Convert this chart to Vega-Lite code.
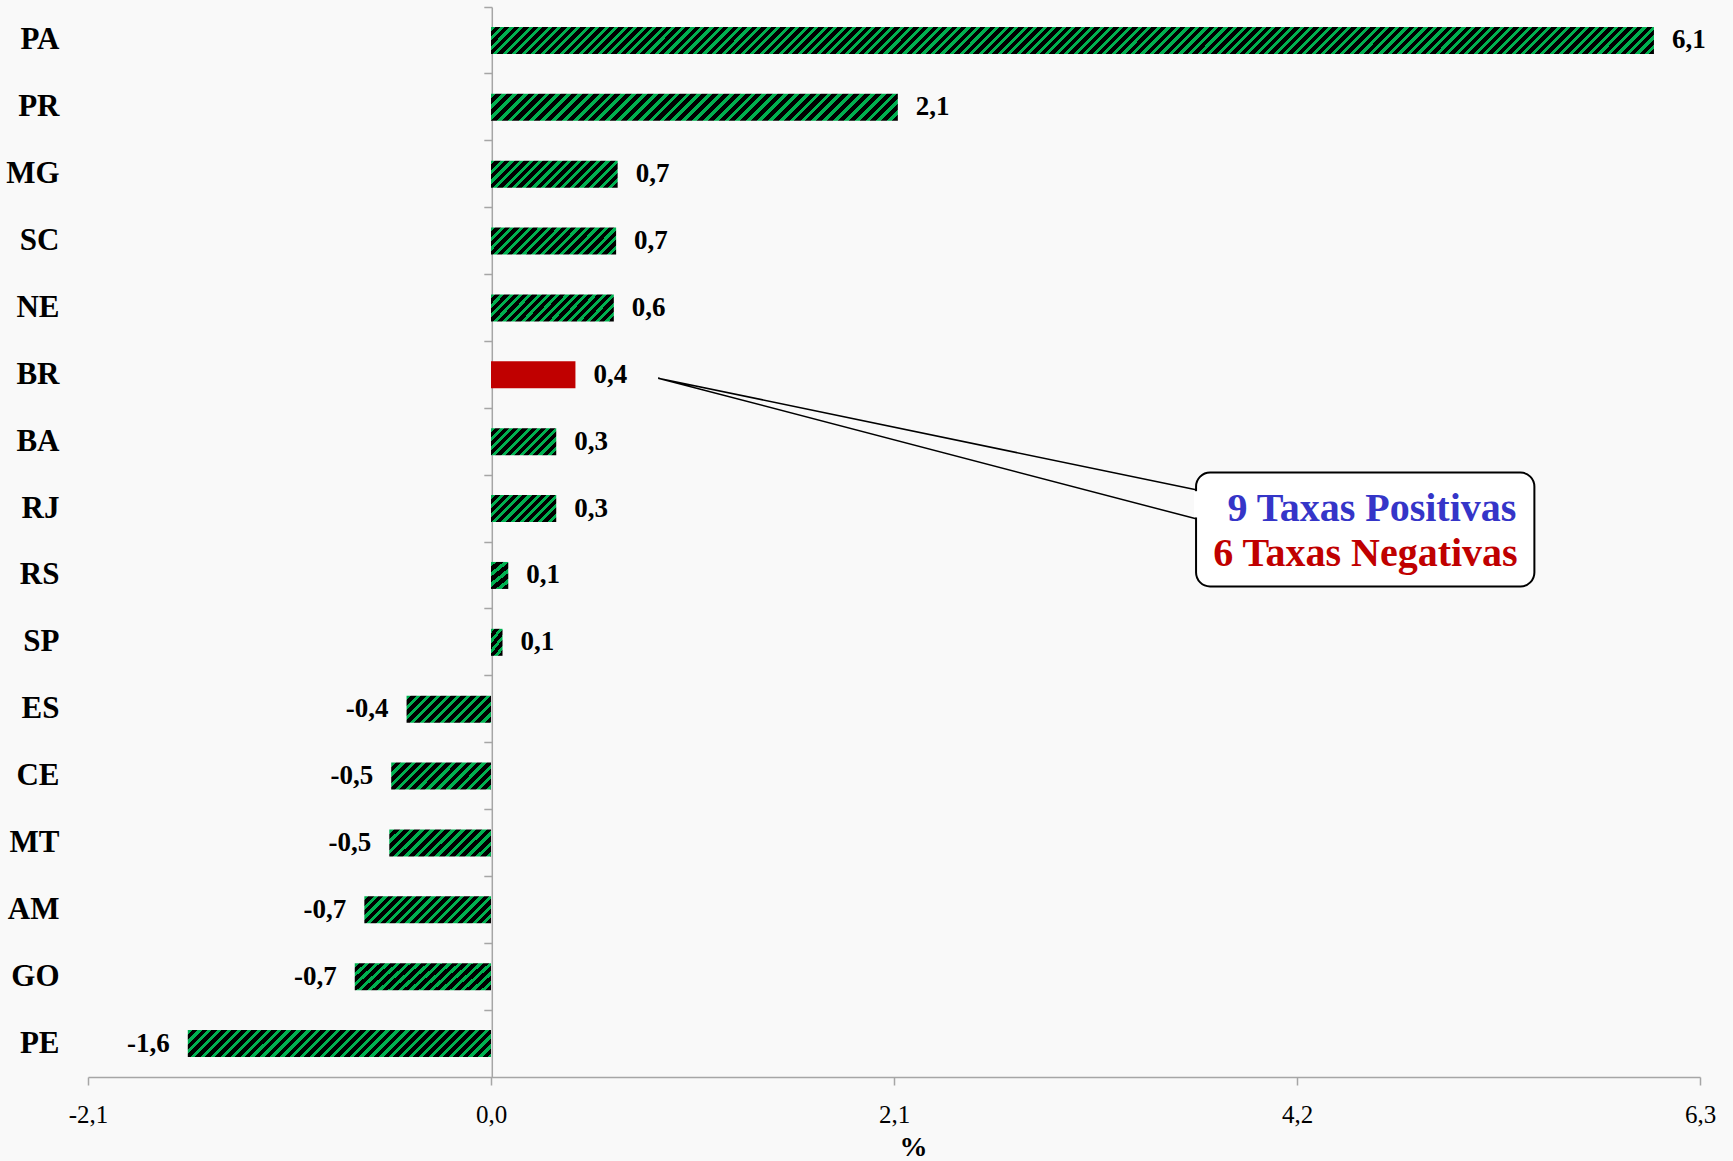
{
"$schema":"https://vega.github.io/schema/vega-lite/v6.json",
"width":1612,"height":1070,
"autosize":{"type":"none"},
"padding":{"left":88,"top":7,"right":33,"bottom":84},
"background":"#f9f9f9",
"config":{"view":{"stroke":null},"font":"Liberation Serif","locale":{"number":{"decimal":",","thousands":".","grouping":[3],"currency":["R$",""],"minus":"-"}}},
"datasets":{
"ufs":[{"uf":"PA","v":6.06},{"uf":"PR","v":2.12},{"uf":"MG","v":0.66},{"uf":"SC","v":0.652},{"uf":"NE","v":0.64},{"uf":"BR","v":0.44},{"uf":"BA","v":0.34},{"uf":"RJ","v":0.34},{"uf":"RS","v":0.09},{"uf":"SP","v":0.06},{"uf":"ES","v":-0.44},{"uf":"CE","v":-0.52},{"uf":"MT","v":-0.53},{"uf":"AM","v":-0.66},{"uf":"GO","v":-0.71},{"uf":"PE","v":-1.58}],
"box":[{"x":3.674,"x2":5.437,"y":6.961,"y2":8.665}],
"gap":[{"x":3.674,"y":7.24,"y2":7.633}],
"wedge":[{"x":3.674,"y":7.22,"o":1},{"x":0.871,"y":5.55,"o":2},{"x":3.674,"y":7.653,"o":3}],
"notes":[{"x":5.343,"y":7.693,"t":"9 Taxas Positivas","c":"pos"},{"x":5.35,"y":8.363,"t":"6 Taxas Negativas","c":"neg"}]
},
"layer":[
{"data":{"name":"ufs"},
"layer":[
{"mark":{"type":"bar","size":27},
"encoding":{
"y":{"field":"uf","type":"nominal","sort":null,"scale":{"domain":["PA","PR","MG","SC","NE","BR","BA","RJ","RS","SP","ES","CE","MT","AM","GO","PE"],"paddingInner":0,"paddingOuter":0},
"axis":{"orient":"left","title":null,"domain":false,"ticks":false,"tickSize":0,"labelPadding":29,"labelFont":"Liberation Serif","labelFontSize":31,"labelFontWeight":"bold","labelColor":"#000","grid":false}},
"x":{"field":"v","type":"quantitative","title":"%","scale":{"domain":[-2.1,6.3],"nice":false,"zero":false},
"axis":{"values":[-2.1,0,2.1,4.2,6.3],"format":".1f","title":"%","grid":false,"labelFlush":false,"labelOverlap":false,"domainColor":"#a6a6a6","domainWidth":1.5,"tickColor":"#a6a6a6","tickWidth":1.5,"tickSize":8,"labelFont":"Liberation Serif","labelFontSize":25,"labelColor":"#000","labelPadding":17,"titleFont":"Liberation Serif","titleFontSize":28,"titleFontWeight":"bold","titleColor":"#000","titleX":825,"titleY":56,"titleBaseline":"top","titleAlign":"center"}},
"color":{"condition":[
{"test":"datum.uf==='BR'","value":"#c00000"},
{"test":"datum.uf==='PA'","value":{"gradient":"linear","x1":0,"y1":0,"x2":1.0227,"y2":0.0237,"stops":[
{"offset":0,"color":"#00b050"},{"offset":0.0035,"color":"#00b050"},{"offset":0.0035,"color":"#000"},{"offset":0.008,"color":"#000"},
{"offset":0.008,"color":"#00b050"},{"offset":0.0115,"color":"#00b050"},{"offset":0.0115,"color":"#000"},{"offset":0.016,"color":"#000"},
{"offset":0.016,"color":"#00b050"},{"offset":0.0195,"color":"#00b050"},{"offset":0.0195,"color":"#000"},{"offset":0.024,"color":"#000"},
{"offset":0.024,"color":"#00b050"},{"offset":0.0275,"color":"#00b050"},{"offset":0.0275,"color":"#000"},{"offset":0.032,"color":"#000"},
{"offset":0.032,"color":"#00b050"},{"offset":0.0355,"color":"#00b050"},{"offset":0.0355,"color":"#000"},{"offset":0.04,"color":"#000"},
{"offset":0.04,"color":"#00b050"},{"offset":0.0435,"color":"#00b050"},{"offset":0.0435,"color":"#000"},{"offset":0.048,"color":"#000"},
{"offset":0.048,"color":"#00b050"},{"offset":0.0515,"color":"#00b050"},{"offset":0.0515,"color":"#000"},{"offset":0.056,"color":"#000"},
{"offset":0.056,"color":"#00b050"},{"offset":0.0595,"color":"#00b050"},{"offset":0.0595,"color":"#000"},{"offset":0.064,"color":"#000"},
{"offset":0.064,"color":"#00b050"},{"offset":0.0675,"color":"#00b050"},{"offset":0.0675,"color":"#000"},{"offset":0.072,"color":"#000"},
{"offset":0.072,"color":"#00b050"},{"offset":0.0755,"color":"#00b050"},{"offset":0.0755,"color":"#000"},{"offset":0.08,"color":"#000"},
{"offset":0.08,"color":"#00b050"},{"offset":0.0835,"color":"#00b050"},{"offset":0.0835,"color":"#000"},{"offset":0.088,"color":"#000"},
{"offset":0.088,"color":"#00b050"},{"offset":0.0915,"color":"#00b050"},{"offset":0.0915,"color":"#000"},{"offset":0.096,"color":"#000"},
{"offset":0.096,"color":"#00b050"},{"offset":0.0995,"color":"#00b050"},{"offset":0.0995,"color":"#000"},{"offset":0.104,"color":"#000"},
{"offset":0.104,"color":"#00b050"},{"offset":0.1075,"color":"#00b050"},{"offset":0.1075,"color":"#000"},{"offset":0.112,"color":"#000"},
{"offset":0.112,"color":"#00b050"},{"offset":0.1155,"color":"#00b050"},{"offset":0.1155,"color":"#000"},{"offset":0.12,"color":"#000"},
{"offset":0.12,"color":"#00b050"},{"offset":0.1235,"color":"#00b050"},{"offset":0.1235,"color":"#000"},{"offset":0.128,"color":"#000"},
{"offset":0.128,"color":"#00b050"},{"offset":0.1315,"color":"#00b050"},{"offset":0.1315,"color":"#000"},{"offset":0.136,"color":"#000"},
{"offset":0.136,"color":"#00b050"},{"offset":0.1395,"color":"#00b050"},{"offset":0.1395,"color":"#000"},{"offset":0.144,"color":"#000"},
{"offset":0.144,"color":"#00b050"},{"offset":0.1475,"color":"#00b050"},{"offset":0.1475,"color":"#000"},{"offset":0.152,"color":"#000"},
{"offset":0.152,"color":"#00b050"},{"offset":0.1555,"color":"#00b050"},{"offset":0.1555,"color":"#000"},{"offset":0.16,"color":"#000"},
{"offset":0.16,"color":"#00b050"},{"offset":0.1635,"color":"#00b050"},{"offset":0.1635,"color":"#000"},{"offset":0.168,"color":"#000"},
{"offset":0.168,"color":"#00b050"},{"offset":0.1715,"color":"#00b050"},{"offset":0.1715,"color":"#000"},{"offset":0.176,"color":"#000"},
{"offset":0.176,"color":"#00b050"},{"offset":0.1795,"color":"#00b050"},{"offset":0.1795,"color":"#000"},{"offset":0.184,"color":"#000"},
{"offset":0.184,"color":"#00b050"},{"offset":0.1875,"color":"#00b050"},{"offset":0.1875,"color":"#000"},{"offset":0.192,"color":"#000"},
{"offset":0.192,"color":"#00b050"},{"offset":0.1955,"color":"#00b050"},{"offset":0.1955,"color":"#000"},{"offset":0.2,"color":"#000"},
{"offset":0.2,"color":"#00b050"},{"offset":0.2035,"color":"#00b050"},{"offset":0.2035,"color":"#000"},{"offset":0.208,"color":"#000"},
{"offset":0.208,"color":"#00b050"},{"offset":0.2115,"color":"#00b050"},{"offset":0.2115,"color":"#000"},{"offset":0.216,"color":"#000"},
{"offset":0.216,"color":"#00b050"},{"offset":0.2195,"color":"#00b050"},{"offset":0.2195,"color":"#000"},{"offset":0.224,"color":"#000"},
{"offset":0.224,"color":"#00b050"},{"offset":0.2275,"color":"#00b050"},{"offset":0.2275,"color":"#000"},{"offset":0.232,"color":"#000"},
{"offset":0.232,"color":"#00b050"},{"offset":0.2355,"color":"#00b050"},{"offset":0.2355,"color":"#000"},{"offset":0.24,"color":"#000"},
{"offset":0.24,"color":"#00b050"},{"offset":0.2435,"color":"#00b050"},{"offset":0.2435,"color":"#000"},{"offset":0.248,"color":"#000"},
{"offset":0.248,"color":"#00b050"},{"offset":0.2515,"color":"#00b050"},{"offset":0.2515,"color":"#000"},{"offset":0.256,"color":"#000"},
{"offset":0.256,"color":"#00b050"},{"offset":0.2595,"color":"#00b050"},{"offset":0.2595,"color":"#000"},{"offset":0.264,"color":"#000"},
{"offset":0.264,"color":"#00b050"},{"offset":0.2675,"color":"#00b050"},{"offset":0.2675,"color":"#000"},{"offset":0.272,"color":"#000"},
{"offset":0.272,"color":"#00b050"},{"offset":0.2755,"color":"#00b050"},{"offset":0.2755,"color":"#000"},{"offset":0.28,"color":"#000"},
{"offset":0.28,"color":"#00b050"},{"offset":0.2835,"color":"#00b050"},{"offset":0.2835,"color":"#000"},{"offset":0.288,"color":"#000"},
{"offset":0.288,"color":"#00b050"},{"offset":0.2915,"color":"#00b050"},{"offset":0.2915,"color":"#000"},{"offset":0.296,"color":"#000"},
{"offset":0.296,"color":"#00b050"},{"offset":0.2995,"color":"#00b050"},{"offset":0.2995,"color":"#000"},{"offset":0.304,"color":"#000"},
{"offset":0.304,"color":"#00b050"},{"offset":0.3075,"color":"#00b050"},{"offset":0.3075,"color":"#000"},{"offset":0.312,"color":"#000"},
{"offset":0.312,"color":"#00b050"},{"offset":0.3155,"color":"#00b050"},{"offset":0.3155,"color":"#000"},{"offset":0.32,"color":"#000"},
{"offset":0.32,"color":"#00b050"},{"offset":0.3235,"color":"#00b050"},{"offset":0.3235,"color":"#000"},{"offset":0.328,"color":"#000"},
{"offset":0.328,"color":"#00b050"},{"offset":0.3315,"color":"#00b050"},{"offset":0.3315,"color":"#000"},{"offset":0.336,"color":"#000"},
{"offset":0.336,"color":"#00b050"},{"offset":0.3395,"color":"#00b050"},{"offset":0.3395,"color":"#000"},{"offset":0.344,"color":"#000"},
{"offset":0.344,"color":"#00b050"},{"offset":0.3475,"color":"#00b050"},{"offset":0.3475,"color":"#000"},{"offset":0.352,"color":"#000"},
{"offset":0.352,"color":"#00b050"},{"offset":0.3555,"color":"#00b050"},{"offset":0.3555,"color":"#000"},{"offset":0.36,"color":"#000"},
{"offset":0.36,"color":"#00b050"},{"offset":0.3635,"color":"#00b050"},{"offset":0.3635,"color":"#000"},{"offset":0.368,"color":"#000"},
{"offset":0.368,"color":"#00b050"},{"offset":0.3715,"color":"#00b050"},{"offset":0.3715,"color":"#000"},{"offset":0.376,"color":"#000"},
{"offset":0.376,"color":"#00b050"},{"offset":0.3795,"color":"#00b050"},{"offset":0.3795,"color":"#000"},{"offset":0.384,"color":"#000"},
{"offset":0.384,"color":"#00b050"},{"offset":0.3875,"color":"#00b050"},{"offset":0.3875,"color":"#000"},{"offset":0.392,"color":"#000"},
{"offset":0.392,"color":"#00b050"},{"offset":0.3955,"color":"#00b050"},{"offset":0.3955,"color":"#000"},{"offset":0.4,"color":"#000"},
{"offset":0.4,"color":"#00b050"},{"offset":0.4035,"color":"#00b050"},{"offset":0.4035,"color":"#000"},{"offset":0.408,"color":"#000"},
{"offset":0.408,"color":"#00b050"},{"offset":0.4115,"color":"#00b050"},{"offset":0.4115,"color":"#000"},{"offset":0.416,"color":"#000"},
{"offset":0.416,"color":"#00b050"},{"offset":0.4195,"color":"#00b050"},{"offset":0.4195,"color":"#000"},{"offset":0.424,"color":"#000"},
{"offset":0.424,"color":"#00b050"},{"offset":0.4275,"color":"#00b050"},{"offset":0.4275,"color":"#000"},{"offset":0.432,"color":"#000"},
{"offset":0.432,"color":"#00b050"},{"offset":0.4355,"color":"#00b050"},{"offset":0.4355,"color":"#000"},{"offset":0.44,"color":"#000"},
{"offset":0.44,"color":"#00b050"},{"offset":0.4435,"color":"#00b050"},{"offset":0.4435,"color":"#000"},{"offset":0.448,"color":"#000"},
{"offset":0.448,"color":"#00b050"},{"offset":0.4515,"color":"#00b050"},{"offset":0.4515,"color":"#000"},{"offset":0.456,"color":"#000"},
{"offset":0.456,"color":"#00b050"},{"offset":0.4595,"color":"#00b050"},{"offset":0.4595,"color":"#000"},{"offset":0.464,"color":"#000"},
{"offset":0.464,"color":"#00b050"},{"offset":0.4675,"color":"#00b050"},{"offset":0.4675,"color":"#000"},{"offset":0.472,"color":"#000"},
{"offset":0.472,"color":"#00b050"},{"offset":0.4755,"color":"#00b050"},{"offset":0.4755,"color":"#000"},{"offset":0.48,"color":"#000"},
{"offset":0.48,"color":"#00b050"},{"offset":0.4835,"color":"#00b050"},{"offset":0.4835,"color":"#000"},{"offset":0.488,"color":"#000"},
{"offset":0.488,"color":"#00b050"},{"offset":0.4915,"color":"#00b050"},{"offset":0.4915,"color":"#000"},{"offset":0.496,"color":"#000"},
{"offset":0.496,"color":"#00b050"},{"offset":0.4995,"color":"#00b050"},{"offset":0.4995,"color":"#000"},{"offset":0.504,"color":"#000"},
{"offset":0.504,"color":"#00b050"},{"offset":0.5075,"color":"#00b050"},{"offset":0.5075,"color":"#000"},{"offset":0.512,"color":"#000"},
{"offset":0.512,"color":"#00b050"},{"offset":0.5155,"color":"#00b050"},{"offset":0.5155,"color":"#000"},{"offset":0.52,"color":"#000"},
{"offset":0.52,"color":"#00b050"},{"offset":0.5235,"color":"#00b050"},{"offset":0.5235,"color":"#000"},{"offset":0.528,"color":"#000"},
{"offset":0.528,"color":"#00b050"},{"offset":0.5315,"color":"#00b050"},{"offset":0.5315,"color":"#000"},{"offset":0.536,"color":"#000"},
{"offset":0.536,"color":"#00b050"},{"offset":0.5395,"color":"#00b050"},{"offset":0.5395,"color":"#000"},{"offset":0.544,"color":"#000"},
{"offset":0.544,"color":"#00b050"},{"offset":0.5475,"color":"#00b050"},{"offset":0.5475,"color":"#000"},{"offset":0.552,"color":"#000"},
{"offset":0.552,"color":"#00b050"},{"offset":0.5555,"color":"#00b050"},{"offset":0.5555,"color":"#000"},{"offset":0.56,"color":"#000"},
{"offset":0.56,"color":"#00b050"},{"offset":0.5635,"color":"#00b050"},{"offset":0.5635,"color":"#000"},{"offset":0.568,"color":"#000"},
{"offset":0.568,"color":"#00b050"},{"offset":0.5715,"color":"#00b050"},{"offset":0.5715,"color":"#000"},{"offset":0.576,"color":"#000"},
{"offset":0.576,"color":"#00b050"},{"offset":0.5795,"color":"#00b050"},{"offset":0.5795,"color":"#000"},{"offset":0.584,"color":"#000"},
{"offset":0.584,"color":"#00b050"},{"offset":0.5875,"color":"#00b050"},{"offset":0.5875,"color":"#000"},{"offset":0.592,"color":"#000"},
{"offset":0.592,"color":"#00b050"},{"offset":0.5955,"color":"#00b050"},{"offset":0.5955,"color":"#000"},{"offset":0.6,"color":"#000"},
{"offset":0.6,"color":"#00b050"},{"offset":0.6035,"color":"#00b050"},{"offset":0.6035,"color":"#000"},{"offset":0.608,"color":"#000"},
{"offset":0.608,"color":"#00b050"},{"offset":0.6115,"color":"#00b050"},{"offset":0.6115,"color":"#000"},{"offset":0.616,"color":"#000"},
{"offset":0.616,"color":"#00b050"},{"offset":0.6195,"color":"#00b050"},{"offset":0.6195,"color":"#000"},{"offset":0.624,"color":"#000"},
{"offset":0.624,"color":"#00b050"},{"offset":0.6275,"color":"#00b050"},{"offset":0.6275,"color":"#000"},{"offset":0.632,"color":"#000"},
{"offset":0.632,"color":"#00b050"},{"offset":0.6355,"color":"#00b050"},{"offset":0.6355,"color":"#000"},{"offset":0.64,"color":"#000"},
{"offset":0.64,"color":"#00b050"},{"offset":0.6435,"color":"#00b050"},{"offset":0.6435,"color":"#000"},{"offset":0.648,"color":"#000"},
{"offset":0.648,"color":"#00b050"},{"offset":0.6515,"color":"#00b050"},{"offset":0.6515,"color":"#000"},{"offset":0.656,"color":"#000"},
{"offset":0.656,"color":"#00b050"},{"offset":0.6595,"color":"#00b050"},{"offset":0.6595,"color":"#000"},{"offset":0.664,"color":"#000"},
{"offset":0.664,"color":"#00b050"},{"offset":0.6675,"color":"#00b050"},{"offset":0.6675,"color":"#000"},{"offset":0.672,"color":"#000"},
{"offset":0.672,"color":"#00b050"},{"offset":0.6755,"color":"#00b050"},{"offset":0.6755,"color":"#000"},{"offset":0.68,"color":"#000"},
{"offset":0.68,"color":"#00b050"},{"offset":0.6835,"color":"#00b050"},{"offset":0.6835,"color":"#000"},{"offset":0.688,"color":"#000"},
{"offset":0.688,"color":"#00b050"},{"offset":0.6915,"color":"#00b050"},{"offset":0.6915,"color":"#000"},{"offset":0.696,"color":"#000"},
{"offset":0.696,"color":"#00b050"},{"offset":0.6995,"color":"#00b050"},{"offset":0.6995,"color":"#000"},{"offset":0.704,"color":"#000"},
{"offset":0.704,"color":"#00b050"},{"offset":0.7075,"color":"#00b050"},{"offset":0.7075,"color":"#000"},{"offset":0.712,"color":"#000"},
{"offset":0.712,"color":"#00b050"},{"offset":0.7155,"color":"#00b050"},{"offset":0.7155,"color":"#000"},{"offset":0.72,"color":"#000"},
{"offset":0.72,"color":"#00b050"},{"offset":0.7235,"color":"#00b050"},{"offset":0.7235,"color":"#000"},{"offset":0.728,"color":"#000"},
{"offset":0.728,"color":"#00b050"},{"offset":0.7315,"color":"#00b050"},{"offset":0.7315,"color":"#000"},{"offset":0.736,"color":"#000"},
{"offset":0.736,"color":"#00b050"},{"offset":0.7395,"color":"#00b050"},{"offset":0.7395,"color":"#000"},{"offset":0.744,"color":"#000"},
{"offset":0.744,"color":"#00b050"},{"offset":0.7475,"color":"#00b050"},{"offset":0.7475,"color":"#000"},{"offset":0.752,"color":"#000"},
{"offset":0.752,"color":"#00b050"},{"offset":0.7555,"color":"#00b050"},{"offset":0.7555,"color":"#000"},{"offset":0.76,"color":"#000"},
{"offset":0.76,"color":"#00b050"},{"offset":0.7635,"color":"#00b050"},{"offset":0.7635,"color":"#000"},{"offset":0.768,"color":"#000"},
{"offset":0.768,"color":"#00b050"},{"offset":0.7715,"color":"#00b050"},{"offset":0.7715,"color":"#000"},{"offset":0.776,"color":"#000"},
{"offset":0.776,"color":"#00b050"},{"offset":0.7795,"color":"#00b050"},{"offset":0.7795,"color":"#000"},{"offset":0.784,"color":"#000"},
{"offset":0.784,"color":"#00b050"},{"offset":0.7875,"color":"#00b050"},{"offset":0.7875,"color":"#000"},{"offset":0.792,"color":"#000"},
{"offset":0.792,"color":"#00b050"},{"offset":0.7955,"color":"#00b050"},{"offset":0.7955,"color":"#000"},{"offset":0.8,"color":"#000"},
{"offset":0.8,"color":"#00b050"},{"offset":0.8035,"color":"#00b050"},{"offset":0.8035,"color":"#000"},{"offset":0.808,"color":"#000"},
{"offset":0.808,"color":"#00b050"},{"offset":0.8115,"color":"#00b050"},{"offset":0.8115,"color":"#000"},{"offset":0.816,"color":"#000"},
{"offset":0.816,"color":"#00b050"},{"offset":0.8195,"color":"#00b050"},{"offset":0.8195,"color":"#000"},{"offset":0.824,"color":"#000"},
{"offset":0.824,"color":"#00b050"},{"offset":0.8275,"color":"#00b050"},{"offset":0.8275,"color":"#000"},{"offset":0.832,"color":"#000"},
{"offset":0.832,"color":"#00b050"},{"offset":0.8355,"color":"#00b050"},{"offset":0.8355,"color":"#000"},{"offset":0.84,"color":"#000"},
{"offset":0.84,"color":"#00b050"},{"offset":0.8435,"color":"#00b050"},{"offset":0.8435,"color":"#000"},{"offset":0.848,"color":"#000"},
{"offset":0.848,"color":"#00b050"},{"offset":0.8515,"color":"#00b050"},{"offset":0.8515,"color":"#000"},{"offset":0.856,"color":"#000"},
{"offset":0.856,"color":"#00b050"},{"offset":0.8595,"color":"#00b050"},{"offset":0.8595,"color":"#000"},{"offset":0.864,"color":"#000"},
{"offset":0.864,"color":"#00b050"},{"offset":0.8675,"color":"#00b050"},{"offset":0.8675,"color":"#000"},{"offset":0.872,"color":"#000"},
{"offset":0.872,"color":"#00b050"},{"offset":0.8755,"color":"#00b050"},{"offset":0.8755,"color":"#000"},{"offset":0.88,"color":"#000"},
{"offset":0.88,"color":"#00b050"},{"offset":0.8835,"color":"#00b050"},{"offset":0.8835,"color":"#000"},{"offset":0.888,"color":"#000"},
{"offset":0.888,"color":"#00b050"},{"offset":0.8915,"color":"#00b050"},{"offset":0.8915,"color":"#000"},{"offset":0.896,"color":"#000"},
{"offset":0.896,"color":"#00b050"},{"offset":0.8995,"color":"#00b050"},{"offset":0.8995,"color":"#000"},{"offset":0.904,"color":"#000"},
{"offset":0.904,"color":"#00b050"},{"offset":0.9075,"color":"#00b050"},{"offset":0.9075,"color":"#000"},{"offset":0.912,"color":"#000"},
{"offset":0.912,"color":"#00b050"},{"offset":0.9155,"color":"#00b050"},{"offset":0.9155,"color":"#000"},{"offset":0.92,"color":"#000"},
{"offset":0.92,"color":"#00b050"},{"offset":0.9235,"color":"#00b050"},{"offset":0.9235,"color":"#000"},{"offset":0.928,"color":"#000"},
{"offset":0.928,"color":"#00b050"},{"offset":0.9315,"color":"#00b050"},{"offset":0.9315,"color":"#000"},{"offset":0.936,"color":"#000"},
{"offset":0.936,"color":"#00b050"},{"offset":0.9395,"color":"#00b050"},{"offset":0.9395,"color":"#000"},{"offset":0.944,"color":"#000"},
{"offset":0.944,"color":"#00b050"},{"offset":0.9475,"color":"#00b050"},{"offset":0.9475,"color":"#000"},{"offset":0.952,"color":"#000"},
{"offset":0.952,"color":"#00b050"},{"offset":0.9555,"color":"#00b050"},{"offset":0.9555,"color":"#000"},{"offset":0.96,"color":"#000"},
{"offset":0.96,"color":"#00b050"},{"offset":0.9635,"color":"#00b050"},{"offset":0.9635,"color":"#000"},{"offset":0.968,"color":"#000"},
{"offset":0.968,"color":"#00b050"},{"offset":0.9715,"color":"#00b050"},{"offset":0.9715,"color":"#000"},{"offset":0.976,"color":"#000"},
{"offset":0.976,"color":"#00b050"},{"offset":0.9795,"color":"#00b050"},{"offset":0.9795,"color":"#000"},{"offset":0.984,"color":"#000"},
{"offset":0.984,"color":"#00b050"},{"offset":0.9875,"color":"#00b050"},{"offset":0.9875,"color":"#000"},{"offset":0.992,"color":"#000"},
{"offset":0.992,"color":"#00b050"},{"offset":0.9955,"color":"#00b050"},{"offset":0.9955,"color":"#000"},{"offset":1,"color":"#000"}
]}},
{"test":"datum.uf==='PR'","value":{"gradient":"linear","x1":0,"y1":0,"x2":1.0617,"y2":0.0705,"stops":[
{"offset":0,"color":"#00b050"},{"offset":0.011,"color":"#00b050"},{"offset":0.011,"color":"#000"},{"offset":0.025,"color":"#000"},
{"offset":0.025,"color":"#00b050"},{"offset":0.036,"color":"#00b050"},{"offset":0.036,"color":"#000"},{"offset":0.05,"color":"#000"},
{"offset":0.05,"color":"#00b050"},{"offset":0.061,"color":"#00b050"},{"offset":0.061,"color":"#000"},{"offset":0.075,"color":"#000"},
{"offset":0.075,"color":"#00b050"},{"offset":0.086,"color":"#00b050"},{"offset":0.086,"color":"#000"},{"offset":0.1,"color":"#000"},
{"offset":0.1,"color":"#00b050"},{"offset":0.111,"color":"#00b050"},{"offset":0.111,"color":"#000"},{"offset":0.125,"color":"#000"},
{"offset":0.125,"color":"#00b050"},{"offset":0.136,"color":"#00b050"},{"offset":0.136,"color":"#000"},{"offset":0.15,"color":"#000"},
{"offset":0.15,"color":"#00b050"},{"offset":0.161,"color":"#00b050"},{"offset":0.161,"color":"#000"},{"offset":0.175,"color":"#000"},
{"offset":0.175,"color":"#00b050"},{"offset":0.186,"color":"#00b050"},{"offset":0.186,"color":"#000"},{"offset":0.2,"color":"#000"},
{"offset":0.2,"color":"#00b050"},{"offset":0.211,"color":"#00b050"},{"offset":0.211,"color":"#000"},{"offset":0.225,"color":"#000"},
{"offset":0.225,"color":"#00b050"},{"offset":0.236,"color":"#00b050"},{"offset":0.236,"color":"#000"},{"offset":0.25,"color":"#000"},
{"offset":0.25,"color":"#00b050"},{"offset":0.261,"color":"#00b050"},{"offset":0.261,"color":"#000"},{"offset":0.275,"color":"#000"},
{"offset":0.275,"color":"#00b050"},{"offset":0.286,"color":"#00b050"},{"offset":0.286,"color":"#000"},{"offset":0.3,"color":"#000"},
{"offset":0.3,"color":"#00b050"},{"offset":0.311,"color":"#00b050"},{"offset":0.311,"color":"#000"},{"offset":0.325,"color":"#000"},
{"offset":0.325,"color":"#00b050"},{"offset":0.336,"color":"#00b050"},{"offset":0.336,"color":"#000"},{"offset":0.35,"color":"#000"},
{"offset":0.35,"color":"#00b050"},{"offset":0.361,"color":"#00b050"},{"offset":0.361,"color":"#000"},{"offset":0.375,"color":"#000"},
{"offset":0.375,"color":"#00b050"},{"offset":0.386,"color":"#00b050"},{"offset":0.386,"color":"#000"},{"offset":0.4,"color":"#000"},
{"offset":0.4,"color":"#00b050"},{"offset":0.411,"color":"#00b050"},{"offset":0.411,"color":"#000"},{"offset":0.425,"color":"#000"},
{"offset":0.425,"color":"#00b050"},{"offset":0.436,"color":"#00b050"},{"offset":0.436,"color":"#000"},{"offset":0.45,"color":"#000"},
{"offset":0.45,"color":"#00b050"},{"offset":0.461,"color":"#00b050"},{"offset":0.461,"color":"#000"},{"offset":0.475,"color":"#000"},
{"offset":0.475,"color":"#00b050"},{"offset":0.486,"color":"#00b050"},{"offset":0.486,"color":"#000"},{"offset":0.5,"color":"#000"},
{"offset":0.5,"color":"#00b050"},{"offset":0.511,"color":"#00b050"},{"offset":0.511,"color":"#000"},{"offset":0.525,"color":"#000"},
{"offset":0.525,"color":"#00b050"},{"offset":0.536,"color":"#00b050"},{"offset":0.536,"color":"#000"},{"offset":0.55,"color":"#000"},
{"offset":0.55,"color":"#00b050"},{"offset":0.561,"color":"#00b050"},{"offset":0.561,"color":"#000"},{"offset":0.575,"color":"#000"},
{"offset":0.575,"color":"#00b050"},{"offset":0.586,"color":"#00b050"},{"offset":0.586,"color":"#000"},{"offset":0.6,"color":"#000"},
{"offset":0.6,"color":"#00b050"},{"offset":0.611,"color":"#00b050"},{"offset":0.611,"color":"#000"},{"offset":0.625,"color":"#000"},
{"offset":0.625,"color":"#00b050"},{"offset":0.636,"color":"#00b050"},{"offset":0.636,"color":"#000"},{"offset":0.65,"color":"#000"},
{"offset":0.65,"color":"#00b050"},{"offset":0.661,"color":"#00b050"},{"offset":0.661,"color":"#000"},{"offset":0.675,"color":"#000"},
{"offset":0.675,"color":"#00b050"},{"offset":0.686,"color":"#00b050"},{"offset":0.686,"color":"#000"},{"offset":0.7,"color":"#000"},
{"offset":0.7,"color":"#00b050"},{"offset":0.711,"color":"#00b050"},{"offset":0.711,"color":"#000"},{"offset":0.725,"color":"#000"},
{"offset":0.725,"color":"#00b050"},{"offset":0.736,"color":"#00b050"},{"offset":0.736,"color":"#000"},{"offset":0.75,"color":"#000"},
{"offset":0.75,"color":"#00b050"},{"offset":0.761,"color":"#00b050"},{"offset":0.761,"color":"#000"},{"offset":0.775,"color":"#000"},
{"offset":0.775,"color":"#00b050"},{"offset":0.786,"color":"#00b050"},{"offset":0.786,"color":"#000"},{"offset":0.8,"color":"#000"},
{"offset":0.8,"color":"#00b050"},{"offset":0.811,"color":"#00b050"},{"offset":0.811,"color":"#000"},{"offset":0.825,"color":"#000"},
{"offset":0.825,"color":"#00b050"},{"offset":0.836,"color":"#00b050"},{"offset":0.836,"color":"#000"},{"offset":0.85,"color":"#000"},
{"offset":0.85,"color":"#00b050"},{"offset":0.861,"color":"#00b050"},{"offset":0.861,"color":"#000"},{"offset":0.875,"color":"#000"},
{"offset":0.875,"color":"#00b050"},{"offset":0.886,"color":"#00b050"},{"offset":0.886,"color":"#000"},{"offset":0.9,"color":"#000"},
{"offset":0.9,"color":"#00b050"},{"offset":0.911,"color":"#00b050"},{"offset":0.911,"color":"#000"},{"offset":0.925,"color":"#000"},
{"offset":0.925,"color":"#00b050"},{"offset":0.936,"color":"#00b050"},{"offset":0.936,"color":"#000"},{"offset":0.95,"color":"#000"},
{"offset":0.95,"color":"#00b050"},{"offset":0.961,"color":"#00b050"},{"offset":0.961,"color":"#000"},{"offset":0.975,"color":"#000"},
{"offset":0.975,"color":"#00b050"},{"offset":0.986,"color":"#00b050"},{"offset":0.986,"color":"#000"},{"offset":1,"color":"#000"}
]}},
{"test":"datum.uf==='PE'","value":{"gradient":"linear","x1":0,"y1":0,"x2":1.0805,"y2":0.0963,"stops":[
{"offset":0,"color":"#00b050"},{"offset":0.013,"color":"#00b050"},{"offset":0.013,"color":"#000"},{"offset":0.03,"color":"#000"},
{"offset":0.03,"color":"#00b050"},{"offset":0.043,"color":"#00b050"},{"offset":0.043,"color":"#000"},{"offset":0.06,"color":"#000"},
{"offset":0.06,"color":"#00b050"},{"offset":0.073,"color":"#00b050"},{"offset":0.073,"color":"#000"},{"offset":0.09,"color":"#000"},
{"offset":0.09,"color":"#00b050"},{"offset":0.103,"color":"#00b050"},{"offset":0.103,"color":"#000"},{"offset":0.12,"color":"#000"},
{"offset":0.12,"color":"#00b050"},{"offset":0.133,"color":"#00b050"},{"offset":0.133,"color":"#000"},{"offset":0.15,"color":"#000"},
{"offset":0.15,"color":"#00b050"},{"offset":0.163,"color":"#00b050"},{"offset":0.163,"color":"#000"},{"offset":0.18,"color":"#000"},
{"offset":0.18,"color":"#00b050"},{"offset":0.193,"color":"#00b050"},{"offset":0.193,"color":"#000"},{"offset":0.21,"color":"#000"},
{"offset":0.21,"color":"#00b050"},{"offset":0.223,"color":"#00b050"},{"offset":0.223,"color":"#000"},{"offset":0.24,"color":"#000"},
{"offset":0.24,"color":"#00b050"},{"offset":0.253,"color":"#00b050"},{"offset":0.253,"color":"#000"},{"offset":0.27,"color":"#000"},
{"offset":0.27,"color":"#00b050"},{"offset":0.283,"color":"#00b050"},{"offset":0.283,"color":"#000"},{"offset":0.3,"color":"#000"},
{"offset":0.3,"color":"#00b050"},{"offset":0.313,"color":"#00b050"},{"offset":0.313,"color":"#000"},{"offset":0.33,"color":"#000"},
{"offset":0.33,"color":"#00b050"},{"offset":0.343,"color":"#00b050"},{"offset":0.343,"color":"#000"},{"offset":0.36,"color":"#000"},
{"offset":0.36,"color":"#00b050"},{"offset":0.373,"color":"#00b050"},{"offset":0.373,"color":"#000"},{"offset":0.39,"color":"#000"},
{"offset":0.39,"color":"#00b050"},{"offset":0.403,"color":"#00b050"},{"offset":0.403,"color":"#000"},{"offset":0.42,"color":"#000"},
{"offset":0.42,"color":"#00b050"},{"offset":0.433,"color":"#00b050"},{"offset":0.433,"color":"#000"},{"offset":0.45,"color":"#000"},
{"offset":0.45,"color":"#00b050"},{"offset":0.463,"color":"#00b050"},{"offset":0.463,"color":"#000"},{"offset":0.48,"color":"#000"},
{"offset":0.48,"color":"#00b050"},{"offset":0.493,"color":"#00b050"},{"offset":0.493,"color":"#000"},{"offset":0.51,"color":"#000"},
{"offset":0.51,"color":"#00b050"},{"offset":0.523,"color":"#00b050"},{"offset":0.523,"color":"#000"},{"offset":0.54,"color":"#000"},
{"offset":0.54,"color":"#00b050"},{"offset":0.553,"color":"#00b050"},{"offset":0.553,"color":"#000"},{"offset":0.57,"color":"#000"},
{"offset":0.57,"color":"#00b050"},{"offset":0.583,"color":"#00b050"},{"offset":0.583,"color":"#000"},{"offset":0.6,"color":"#000"},
{"offset":0.6,"color":"#00b050"},{"offset":0.613,"color":"#00b050"},{"offset":0.613,"color":"#000"},{"offset":0.63,"color":"#000"},
{"offset":0.63,"color":"#00b050"},{"offset":0.643,"color":"#00b050"},{"offset":0.643,"color":"#000"},{"offset":0.66,"color":"#000"},
{"offset":0.66,"color":"#00b050"},{"offset":0.673,"color":"#00b050"},{"offset":0.673,"color":"#000"},{"offset":0.69,"color":"#000"},
{"offset":0.69,"color":"#00b050"},{"offset":0.703,"color":"#00b050"},{"offset":0.703,"color":"#000"},{"offset":0.72,"color":"#000"},
{"offset":0.72,"color":"#00b050"},{"offset":0.733,"color":"#00b050"},{"offset":0.733,"color":"#000"},{"offset":0.75,"color":"#000"},
{"offset":0.75,"color":"#00b050"},{"offset":0.763,"color":"#00b050"},{"offset":0.763,"color":"#000"},{"offset":0.78,"color":"#000"},
{"offset":0.78,"color":"#00b050"},{"offset":0.793,"color":"#00b050"},{"offset":0.793,"color":"#000"},{"offset":0.81,"color":"#000"},
{"offset":0.81,"color":"#00b050"},{"offset":0.823,"color":"#00b050"},{"offset":0.823,"color":"#000"},{"offset":0.84,"color":"#000"},
{"offset":0.84,"color":"#00b050"},{"offset":0.853,"color":"#00b050"},{"offset":0.853,"color":"#000"},{"offset":0.87,"color":"#000"},
{"offset":0.87,"color":"#00b050"},{"offset":0.883,"color":"#00b050"},{"offset":0.883,"color":"#000"},{"offset":0.9,"color":"#000"},
{"offset":0.9,"color":"#00b050"},{"offset":0.913,"color":"#00b050"},{"offset":0.913,"color":"#000"},{"offset":0.93,"color":"#000"},
{"offset":0.93,"color":"#00b050"},{"offset":0.943,"color":"#00b050"},{"offset":0.943,"color":"#000"},{"offset":0.96,"color":"#000"},
{"offset":0.96,"color":"#00b050"},{"offset":0.973,"color":"#00b050"},{"offset":0.973,"color":"#000"},{"offset":0.99,"color":"#000"},
{"offset":0.99,"color":"#00b050"},{"offset":1,"color":"#00b050"}
]}},
{"test":"datum.uf==='MG' || datum.uf==='SC' || datum.uf==='NE' || datum.uf==='AM' || datum.uf==='GO'","value":{"gradient":"linear","x1":0,"y1":0,"x2":1.1602,"y2":0.2467,"stops":[
{"offset":0,"color":"#00b050"},{"offset":0.0275,"color":"#00b050"},{"offset":0.0275,"color":"#000"},{"offset":0.0625,"color":"#000"},
{"offset":0.0625,"color":"#00b050"},{"offset":0.09,"color":"#00b050"},{"offset":0.09,"color":"#000"},{"offset":0.125,"color":"#000"},
{"offset":0.125,"color":"#00b050"},{"offset":0.1525,"color":"#00b050"},{"offset":0.1525,"color":"#000"},{"offset":0.1875,"color":"#000"},
{"offset":0.1875,"color":"#00b050"},{"offset":0.215,"color":"#00b050"},{"offset":0.215,"color":"#000"},{"offset":0.25,"color":"#000"},
{"offset":0.25,"color":"#00b050"},{"offset":0.2775,"color":"#00b050"},{"offset":0.2775,"color":"#000"},{"offset":0.3125,"color":"#000"},
{"offset":0.3125,"color":"#00b050"},{"offset":0.34,"color":"#00b050"},{"offset":0.34,"color":"#000"},{"offset":0.375,"color":"#000"},
{"offset":0.375,"color":"#00b050"},{"offset":0.4025,"color":"#00b050"},{"offset":0.4025,"color":"#000"},{"offset":0.4375,"color":"#000"},
{"offset":0.4375,"color":"#00b050"},{"offset":0.465,"color":"#00b050"},{"offset":0.465,"color":"#000"},{"offset":0.5,"color":"#000"},
{"offset":0.5,"color":"#00b050"},{"offset":0.5275,"color":"#00b050"},{"offset":0.5275,"color":"#000"},{"offset":0.5625,"color":"#000"},
{"offset":0.5625,"color":"#00b050"},{"offset":0.59,"color":"#00b050"},{"offset":0.59,"color":"#000"},{"offset":0.625,"color":"#000"},
{"offset":0.625,"color":"#00b050"},{"offset":0.6525,"color":"#00b050"},{"offset":0.6525,"color":"#000"},{"offset":0.6875,"color":"#000"},
{"offset":0.6875,"color":"#00b050"},{"offset":0.715,"color":"#00b050"},{"offset":0.715,"color":"#000"},{"offset":0.75,"color":"#000"},
{"offset":0.75,"color":"#00b050"},{"offset":0.7775,"color":"#00b050"},{"offset":0.7775,"color":"#000"},{"offset":0.8125,"color":"#000"},
{"offset":0.8125,"color":"#00b050"},{"offset":0.84,"color":"#00b050"},{"offset":0.84,"color":"#000"},{"offset":0.875,"color":"#000"},
{"offset":0.875,"color":"#00b050"},{"offset":0.9025,"color":"#00b050"},{"offset":0.9025,"color":"#000"},{"offset":0.9375,"color":"#000"},
{"offset":0.9375,"color":"#00b050"},{"offset":0.965,"color":"#00b050"},{"offset":0.965,"color":"#000"},{"offset":1,"color":"#000"}
]}},
{"test":"datum.uf==='CE' || datum.uf==='MT'","value":{"gradient":"linear","x1":0,"y1":0,"x2":1.183,"y2":0.3171,"stops":[
{"offset":0,"color":"#00b050"},{"offset":0.035,"color":"#00b050"},{"offset":0.035,"color":"#000"},{"offset":0.08,"color":"#000"},
{"offset":0.08,"color":"#00b050"},{"offset":0.115,"color":"#00b050"},{"offset":0.115,"color":"#000"},{"offset":0.16,"color":"#000"},
{"offset":0.16,"color":"#00b050"},{"offset":0.195,"color":"#00b050"},{"offset":0.195,"color":"#000"},{"offset":0.24,"color":"#000"},
{"offset":0.24,"color":"#00b050"},{"offset":0.275,"color":"#00b050"},{"offset":0.275,"color":"#000"},{"offset":0.32,"color":"#000"},
{"offset":0.32,"color":"#00b050"},{"offset":0.355,"color":"#00b050"},{"offset":0.355,"color":"#000"},{"offset":0.4,"color":"#000"},
{"offset":0.4,"color":"#00b050"},{"offset":0.435,"color":"#00b050"},{"offset":0.435,"color":"#000"},{"offset":0.48,"color":"#000"},
{"offset":0.48,"color":"#00b050"},{"offset":0.515,"color":"#00b050"},{"offset":0.515,"color":"#000"},{"offset":0.56,"color":"#000"},
{"offset":0.56,"color":"#00b050"},{"offset":0.595,"color":"#00b050"},{"offset":0.595,"color":"#000"},{"offset":0.64,"color":"#000"},
{"offset":0.64,"color":"#00b050"},{"offset":0.675,"color":"#00b050"},{"offset":0.675,"color":"#000"},{"offset":0.72,"color":"#000"},
{"offset":0.72,"color":"#00b050"},{"offset":0.755,"color":"#00b050"},{"offset":0.755,"color":"#000"},{"offset":0.8,"color":"#000"},
{"offset":0.8,"color":"#00b050"},{"offset":0.835,"color":"#00b050"},{"offset":0.835,"color":"#000"},{"offset":0.88,"color":"#000"},
{"offset":0.88,"color":"#00b050"},{"offset":0.915,"color":"#00b050"},{"offset":0.915,"color":"#000"},{"offset":0.96,"color":"#000"},
{"offset":0.96,"color":"#00b050"},{"offset":0.995,"color":"#00b050"},{"offset":0.995,"color":"#000"},{"offset":1,"color":"#000"}
]}},
{"test":"datum.uf==='ES'","value":{"gradient":"linear","x1":0,"y1":0,"x2":1.1974,"y2":0.3831,"stops":[
{"offset":0,"color":"#00b050"},{"offset":0.04,"color":"#00b050"},{"offset":0.04,"color":"#000"},{"offset":0.09,"color":"#000"},
{"offset":0.09,"color":"#00b050"},{"offset":0.13,"color":"#00b050"},{"offset":0.13,"color":"#000"},{"offset":0.18,"color":"#000"},
{"offset":0.18,"color":"#00b050"},{"offset":0.22,"color":"#00b050"},{"offset":0.22,"color":"#000"},{"offset":0.27,"color":"#000"},
{"offset":0.27,"color":"#00b050"},{"offset":0.31,"color":"#00b050"},{"offset":0.31,"color":"#000"},{"offset":0.36,"color":"#000"},
{"offset":0.36,"color":"#00b050"},{"offset":0.4,"color":"#00b050"},{"offset":0.4,"color":"#000"},{"offset":0.45,"color":"#000"},
{"offset":0.45,"color":"#00b050"},{"offset":0.49,"color":"#00b050"},{"offset":0.49,"color":"#000"},{"offset":0.54,"color":"#000"},
{"offset":0.54,"color":"#00b050"},{"offset":0.58,"color":"#00b050"},{"offset":0.58,"color":"#000"},{"offset":0.63,"color":"#000"},
{"offset":0.63,"color":"#00b050"},{"offset":0.67,"color":"#00b050"},{"offset":0.67,"color":"#000"},{"offset":0.72,"color":"#000"},
{"offset":0.72,"color":"#00b050"},{"offset":0.76,"color":"#00b050"},{"offset":0.76,"color":"#000"},{"offset":0.81,"color":"#000"},
{"offset":0.81,"color":"#00b050"},{"offset":0.85,"color":"#00b050"},{"offset":0.85,"color":"#000"},{"offset":0.9,"color":"#000"},
{"offset":0.9,"color":"#00b050"},{"offset":0.94,"color":"#00b050"},{"offset":0.94,"color":"#000"},{"offset":0.99,"color":"#000"},
{"offset":0.99,"color":"#00b050"},{"offset":1,"color":"#00b050"}
]}},
{"test":"datum.uf==='BA' || datum.uf==='RJ'","value":{"gradient":"linear","x1":0,"y1":0,"x2":1.2071,"y2":0.4999,"stops":[
{"offset":0,"color":"#00b050"},{"offset":0.044,"color":"#00b050"},{"offset":0.044,"color":"#000"},{"offset":0.1,"color":"#000"},
{"offset":0.1,"color":"#00b050"},{"offset":0.144,"color":"#00b050"},{"offset":0.144,"color":"#000"},{"offset":0.2,"color":"#000"},
{"offset":0.2,"color":"#00b050"},{"offset":0.244,"color":"#00b050"},{"offset":0.244,"color":"#000"},{"offset":0.3,"color":"#000"},
{"offset":0.3,"color":"#00b050"},{"offset":0.344,"color":"#00b050"},{"offset":0.344,"color":"#000"},{"offset":0.4,"color":"#000"},
{"offset":0.4,"color":"#00b050"},{"offset":0.444,"color":"#00b050"},{"offset":0.444,"color":"#000"},{"offset":0.5,"color":"#000"},
{"offset":0.5,"color":"#00b050"},{"offset":0.544,"color":"#00b050"},{"offset":0.544,"color":"#000"},{"offset":0.6,"color":"#000"},
{"offset":0.6,"color":"#00b050"},{"offset":0.644,"color":"#00b050"},{"offset":0.644,"color":"#000"},{"offset":0.7,"color":"#000"},
{"offset":0.7,"color":"#00b050"},{"offset":0.744,"color":"#00b050"},{"offset":0.744,"color":"#000"},{"offset":0.8,"color":"#000"},
{"offset":0.8,"color":"#00b050"},{"offset":0.844,"color":"#00b050"},{"offset":0.844,"color":"#000"},{"offset":0.9,"color":"#000"},
{"offset":0.9,"color":"#00b050"},{"offset":0.944,"color":"#00b050"},{"offset":0.944,"color":"#000"},{"offset":1,"color":"#000"}
]}},
{"test":"datum.uf==='RS' || datum.uf==='SP'","value":{"gradient":"linear","x1":0,"y1":0,"x2":0.6201,"y2":1.1968,"stops":[
{"offset":0,"color":"#00b050"},{"offset":0.11,"color":"#00b050"},{"offset":0.11,"color":"#000"},{"offset":0.25,"color":"#000"},
{"offset":0.25,"color":"#00b050"},{"offset":0.36,"color":"#00b050"},{"offset":0.36,"color":"#000"},{"offset":0.5,"color":"#000"},
{"offset":0.5,"color":"#00b050"},{"offset":0.61,"color":"#00b050"},{"offset":0.61,"color":"#000"},{"offset":0.75,"color":"#000"},
{"offset":0.75,"color":"#00b050"},{"offset":0.86,"color":"#00b050"},{"offset":0.86,"color":"#000"},{"offset":1,"color":"#000"}
]}}
],"value":"#00b050"}
}},
{"transform":[{"filter":"datum.v >= 0"}],
"mark":{"type":"text","align":"left","baseline":"middle","dx":18,"font":"Liberation Serif","fontSize":27,"fontWeight":"bold","color":"#000"},
"encoding":{
"y":{"field":"uf","type":"nominal","sort":null,"scale":{"domain":["PA","PR","MG","SC","NE","BR","BA","RJ","RS","SP","ES","CE","MT","AM","GO","PE"]},
"axis":{"orient":"left","title":null,"labels":false,"domain":true,"domainColor":"#a6a6a6","domainWidth":1.5,"ticks":true,"tickColor":"#a6a6a6","tickWidth":1.5,"tickSize":8,"bandPosition":0,"offset":-403.8,"grid":false}},
"x":{"field":"v","type":"quantitative","title":"%","scale":{"domain":[-2.1,6.3],"nice":false,"zero":false},
"axis":{"values":[-2.1,0,2.1,4.2,6.3],"format":".1f","title":"%","grid":false,"labelFlush":false,"labelOverlap":false,"domainColor":"#a6a6a6","domainWidth":1.5,"tickColor":"#a6a6a6","tickWidth":1.5,"tickSize":8,"labelFont":"Liberation Serif","labelFontSize":25,"labelColor":"#000","labelPadding":17,"titleFont":"Liberation Serif","titleFontSize":28,"titleFontWeight":"bold","titleColor":"#000","titleX":825,"titleY":56,"titleBaseline":"top","titleAlign":"center"}},
"text":{"field":"v","type":"quantitative","format":".1f"}
}},
{"transform":[{"filter":"datum.v < 0"}],
"mark":{"type":"text","align":"right","baseline":"middle","dx":-18,"font":"Liberation Serif","fontSize":27,"fontWeight":"bold","color":"#000"},
"encoding":{
"y":{"field":"uf","type":"nominal","sort":null,"scale":{"domain":["PA","PR","MG","SC","NE","BR","BA","RJ","RS","SP","ES","CE","MT","AM","GO","PE"]},"axis":null},
"x":{"field":"v","type":"quantitative","title":"%","scale":{"domain":[-2.1,6.3],"nice":false,"zero":false},
"axis":{"values":[-2.1,0,2.1,4.2,6.3],"format":".1f","title":"%","grid":false,"labelFlush":false,"labelOverlap":false,"domainColor":"#a6a6a6","domainWidth":1.5,"tickColor":"#a6a6a6","tickWidth":1.5,"tickSize":8,"labelFont":"Liberation Serif","labelFontSize":25,"labelColor":"#000","labelPadding":17,"titleFont":"Liberation Serif","titleFontSize":28,"titleFontWeight":"bold","titleColor":"#000","titleX":825,"titleY":56,"titleBaseline":"top","titleAlign":"center"}},
"text":{"field":"v","type":"quantitative","format":".1f"}
}}
],
"resolve":{"axis":{"y":"independent"}}
},
{"layer":[
{"data":{"name":"box"},
"mark":{"type":"rect","fill":"#ffffff","stroke":"#000","strokeWidth":2,"cornerRadius":14},
"encoding":{
"x":{"field":"x","type":"quantitative","title":"%","scale":{"domain":[-2.1,6.3],"nice":false,"zero":false},
"axis":{"values":[-2.1,0,2.1,4.2,6.3],"format":".1f","title":"%","grid":false,"labelFlush":false,"labelOverlap":false,"domainColor":"#a6a6a6","domainWidth":1.5,"tickColor":"#a6a6a6","tickWidth":1.5,"tickSize":8,"labelFont":"Liberation Serif","labelFontSize":25,"labelColor":"#000","labelPadding":17,"titleFont":"Liberation Serif","titleFontSize":28,"titleFontWeight":"bold","titleColor":"#000","titleX":825,"titleY":56,"titleBaseline":"top","titleAlign":"center"}},
"x2":{"field":"x2"},
"y":{"field":"y","type":"quantitative","scale":{"domain":[0,16],"reverse":true,"nice":false,"zero":false},"axis":null},
"y2":{"field":"y2"}
}},
{"data":{"name":"gap"},
"mark":{"type":"rule","stroke":"#ffffff","strokeWidth":4},
"encoding":{
"x":{"field":"x","type":"quantitative","title":"%","scale":{"domain":[-2.1,6.3],"nice":false,"zero":false},
"axis":{"values":[-2.1,0,2.1,4.2,6.3],"format":".1f","title":"%","grid":false,"labelFlush":false,"labelOverlap":false,"domainColor":"#a6a6a6","domainWidth":1.5,"tickColor":"#a6a6a6","tickWidth":1.5,"tickSize":8,"labelFont":"Liberation Serif","labelFontSize":25,"labelColor":"#000","labelPadding":17,"titleFont":"Liberation Serif","titleFontSize":28,"titleFontWeight":"bold","titleColor":"#000","titleX":825,"titleY":56,"titleBaseline":"top","titleAlign":"center"}},
"y":{"field":"y","type":"quantitative","scale":{"domain":[0,16],"reverse":true,"nice":false,"zero":false},"axis":null},
"y2":{"field":"y2"}
}},
{"data":{"name":"wedge"},
"mark":{"type":"line","stroke":"#000","strokeWidth":1.5},
"encoding":{
"x":{"field":"x","type":"quantitative","title":"%","scale":{"domain":[-2.1,6.3],"nice":false,"zero":false},
"axis":{"values":[-2.1,0,2.1,4.2,6.3],"format":".1f","title":"%","grid":false,"labelFlush":false,"labelOverlap":false,"domainColor":"#a6a6a6","domainWidth":1.5,"tickColor":"#a6a6a6","tickWidth":1.5,"tickSize":8,"labelFont":"Liberation Serif","labelFontSize":25,"labelColor":"#000","labelPadding":17,"titleFont":"Liberation Serif","titleFontSize":28,"titleFontWeight":"bold","titleColor":"#000","titleX":825,"titleY":56,"titleBaseline":"top","titleAlign":"center"}},
"y":{"field":"y","type":"quantitative","scale":{"domain":[0,16],"reverse":true,"nice":false,"zero":false},"axis":null},
"order":{"field":"o","type":"quantitative"}
}},
{"data":{"name":"notes"},
"mark":{"type":"text","align":"right","baseline":"alphabetic","font":"Liberation Serif","fontSize":40,"fontWeight":"bold"},
"encoding":{
"x":{"field":"x","type":"quantitative","title":"%","scale":{"domain":[-2.1,6.3],"nice":false,"zero":false},
"axis":{"values":[-2.1,0,2.1,4.2,6.3],"format":".1f","title":"%","grid":false,"labelFlush":false,"labelOverlap":false,"domainColor":"#a6a6a6","domainWidth":1.5,"tickColor":"#a6a6a6","tickWidth":1.5,"tickSize":8,"labelFont":"Liberation Serif","labelFontSize":25,"labelColor":"#000","labelPadding":17,"titleFont":"Liberation Serif","titleFontSize":28,"titleFontWeight":"bold","titleColor":"#000","titleX":825,"titleY":56,"titleBaseline":"top","titleAlign":"center"}},
"y":{"field":"y","type":"quantitative","scale":{"domain":[0,16],"reverse":true,"nice":false,"zero":false},"axis":null},
"text":{"field":"t","type":"nominal"},
"color":{"condition":{"test":"datum.c==='pos'","value":"#3535c8"},"value":"#c00000"}
}}
]}
],
"resolve":{"scale":{"y":"independent"}}
}
